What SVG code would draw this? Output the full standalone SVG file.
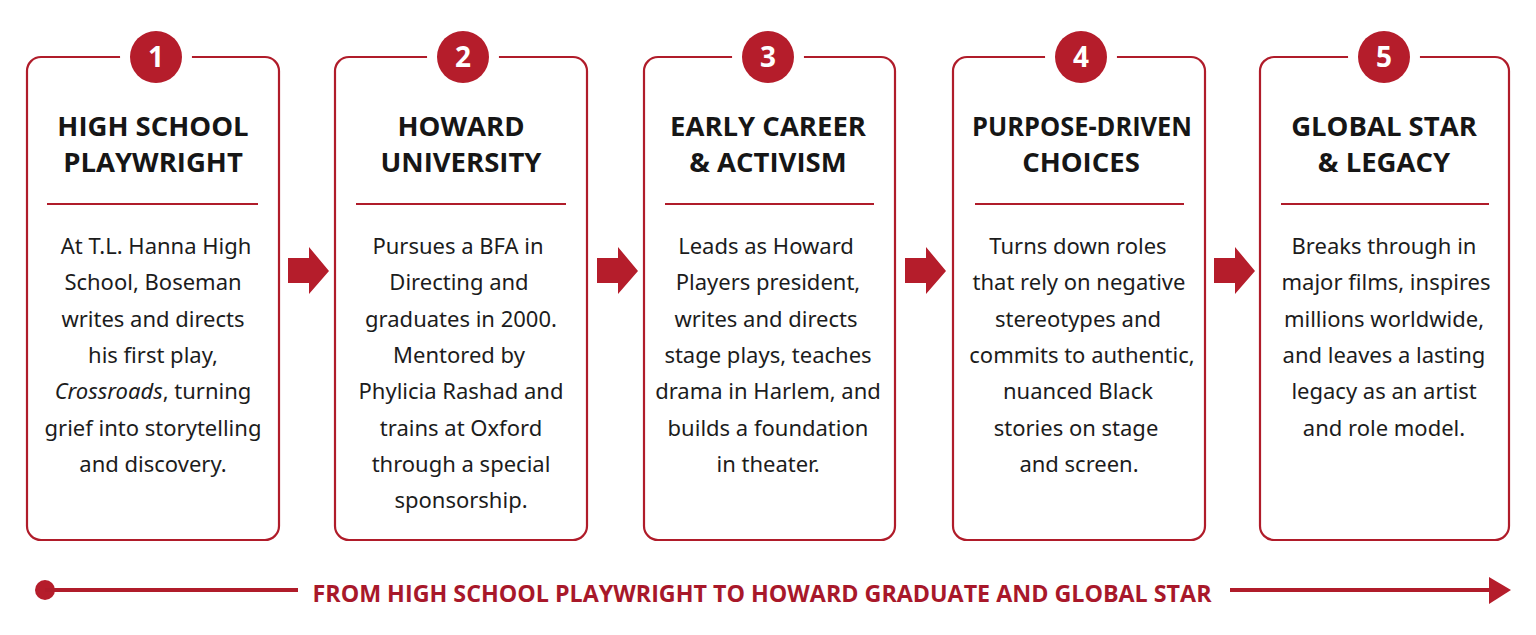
<svg xmlns="http://www.w3.org/2000/svg" width="1536" height="635" viewBox="0 0 1536 635">
<defs>
<style>
.card{fill:#fff;stroke:#b01c2a;stroke-width:2.2}
.sep{stroke:#b01c2a;stroke-width:2.2}
.badge{fill:#b51d2b}
.halo{fill:#fff}
.num{font-family:"Open Sans","Noto Sans",sans-serif;font-weight:700;font-size:28px;fill:#fff;text-anchor:middle}
.title{font-family:"Open Sans","Noto Sans",sans-serif;font-weight:700;font-size:27.5px;fill:#161616;text-anchor:middle}
.body{font-family:"Noto Sans","Open Sans",sans-serif;font-size:22px;fill:#1c1c1c;text-anchor:middle}
.arrow{fill:#b51d2b}
.tl{stroke:#b01c2a;stroke-width:4;fill:none}
.tltext{font-family:"Open Sans","Noto Sans",sans-serif;font-weight:700;font-size:23px;fill:#a8182a;text-anchor:middle}
</style>
</defs>
<rect width="1536" height="635" fill="#fff"/>

<g id="node1">
<rect class="card" x="27" y="57" width="252" height="483" rx="14"/>
<circle class="halo" cx="156" cy="57" r="36"/>
<circle class="badge" cx="156" cy="57" r="26"/>
<text class="num" x="156" y="67">1</text>
<text class="title" x="153" y="136">HIGH SCHOOL</text>
<text class="title" x="153" y="172">PLAYWRIGHT</text>
<line class="sep" x1="47" y1="204" x2="258" y2="204"/>
<text class="body" x="156" y="254">At T.L. Hanna High</text>
<text class="body" x="153" y="290">School, Boseman</text>
<text class="body" x="153" y="327">writes and directs</text>
<text class="body" x="153" y="363">his first play,</text>
<text class="body" x="153" y="399"><tspan font-style="italic">Crossroads</tspan>, turning</text>
<text class="body" x="153" y="436">grief into storytelling</text>
<text class="body" x="153" y="472">and discovery.</text>
</g>

<g id="node2">
<rect class="card" x="335" y="57" width="252" height="483" rx="14"/>
<circle class="halo" cx="463" cy="57" r="36"/>
<circle class="badge" cx="463" cy="57" r="26"/>
<text class="num" x="463" y="67">2</text>
<text class="title" x="461" y="136">HOWARD</text>
<text class="title" x="461" y="172">UNIVERSITY</text>
<line class="sep" x1="356" y1="204" x2="566" y2="204"/>
<text class="body" x="458" y="254">Pursues a BFA in</text>
<text class="body" x="459" y="290">Directing and</text>
<text class="body" x="461" y="327">graduates in 2000.</text>
<text class="body" x="459" y="363">Mentored by</text>
<text class="body" x="461" y="399">Phylicia Rashad and</text>
<text class="body" x="461" y="436">trains at Oxford</text>
<text class="body" x="461" y="472">through a special</text>
<text class="body" x="461" y="508">sponsorship.</text>
</g>

<g id="node3">
<rect class="card" x="644" y="57" width="251" height="483" rx="14"/>
<circle class="halo" cx="768" cy="57" r="36"/>
<circle class="badge" cx="768" cy="57" r="26"/>
<text class="num" x="768" y="67">3</text>
<text class="title" x="768" y="136">EARLY CAREER</text>
<text class="title" x="768" y="172">&amp; ACTIVISM</text>
<line class="sep" x1="665" y1="204" x2="874" y2="204"/>
<text class="body" x="766" y="254">Leads as Howard</text>
<text class="body" x="768" y="290">Players president,</text>
<text class="body" x="766" y="327">writes and directs</text>
<text class="body" x="768" y="363">stage plays, teaches</text>
<text class="body" x="768" y="399">drama in Harlem, and</text>
<text class="body" x="768" y="436">builds a foundation</text>
<text class="body" x="768" y="472">in theater.</text>
</g>

<g id="node4">
<rect class="card" x="953" y="57" width="252" height="483" rx="14"/>
<circle class="halo" cx="1081" cy="57" r="36"/>
<circle class="badge" cx="1081" cy="57" r="26"/>
<text class="num" x="1081" y="67">4</text>
<text class="title" x="1082" y="136" textLength="220" lengthAdjust="spacingAndGlyphs">PURPOSE-DRIVEN</text>
<text class="title" x="1081" y="172">CHOICES</text>
<line class="sep" x1="975" y1="204" x2="1184" y2="204"/>
<text class="body" x="1078" y="254">Turns down roles</text>
<text class="body" x="1079" y="290">that rely on negative</text>
<text class="body" x="1078" y="327">stereotypes and</text>
<text class="body" x="1082" y="363">commits to authentic,</text>
<text class="body" x="1078" y="399">nuanced Black</text>
<text class="body" x="1076" y="436">stories on stage</text>
<text class="body" x="1079" y="472">and screen.</text>
</g>

<g id="node5">
<rect class="card" x="1260" y="57" width="249" height="483" rx="14"/>
<circle class="halo" cx="1384" cy="57" r="36"/>
<circle class="badge" cx="1384" cy="57" r="26"/>
<text class="num" x="1384" y="67">5</text>
<text class="title" x="1384" y="136">GLOBAL STAR</text>
<text class="title" x="1384" y="172">&amp; LEGACY</text>
<line class="sep" x1="1281" y1="204" x2="1489" y2="204"/>
<text class="body" x="1384" y="254">Breaks through in</text>
<text class="body" x="1386" y="290">major films, inspires</text>
<text class="body" x="1384" y="327">millions worldwide,</text>
<text class="body" x="1384" y="363">and leaves a lasting</text>
<text class="body" x="1384" y="399">legacy as an artist</text>
<text class="body" x="1384" y="436">and role model.</text>
</g>

<g id="connectors">
<path class="arrow" d="M288,258 H309 V247 L329,271 L309,294 V283 H288 Z"/>
<path class="arrow" d="M597,258 H618 V247 L638,271 L618,294 V283 H597 Z"/>
<path class="arrow" d="M905,258 H926 V247 L946,271 L926,294 V283 H905 Z"/>
<path class="arrow" d="M1214,258 H1235 V247 L1255,271 L1235,294 V283 H1214 Z"/>
</g>

<g id="timeline">
<circle class="badge" cx="45" cy="590" r="10"/>
<line class="tl" x1="45" y1="590" x2="298" y2="590"/>
<text class="tltext" x="762" y="602" textLength="899" lengthAdjust="spacingAndGlyphs">FROM HIGH SCHOOL PLAYWRIGHT TO HOWARD GRADUATE AND GLOBAL STAR</text>
<line class="tl" x1="1230" y1="590" x2="1494" y2="590"/>
<path class="badge" d="M1489,577 L1511,590 L1489,604 Z"/>
</g>
</svg>
